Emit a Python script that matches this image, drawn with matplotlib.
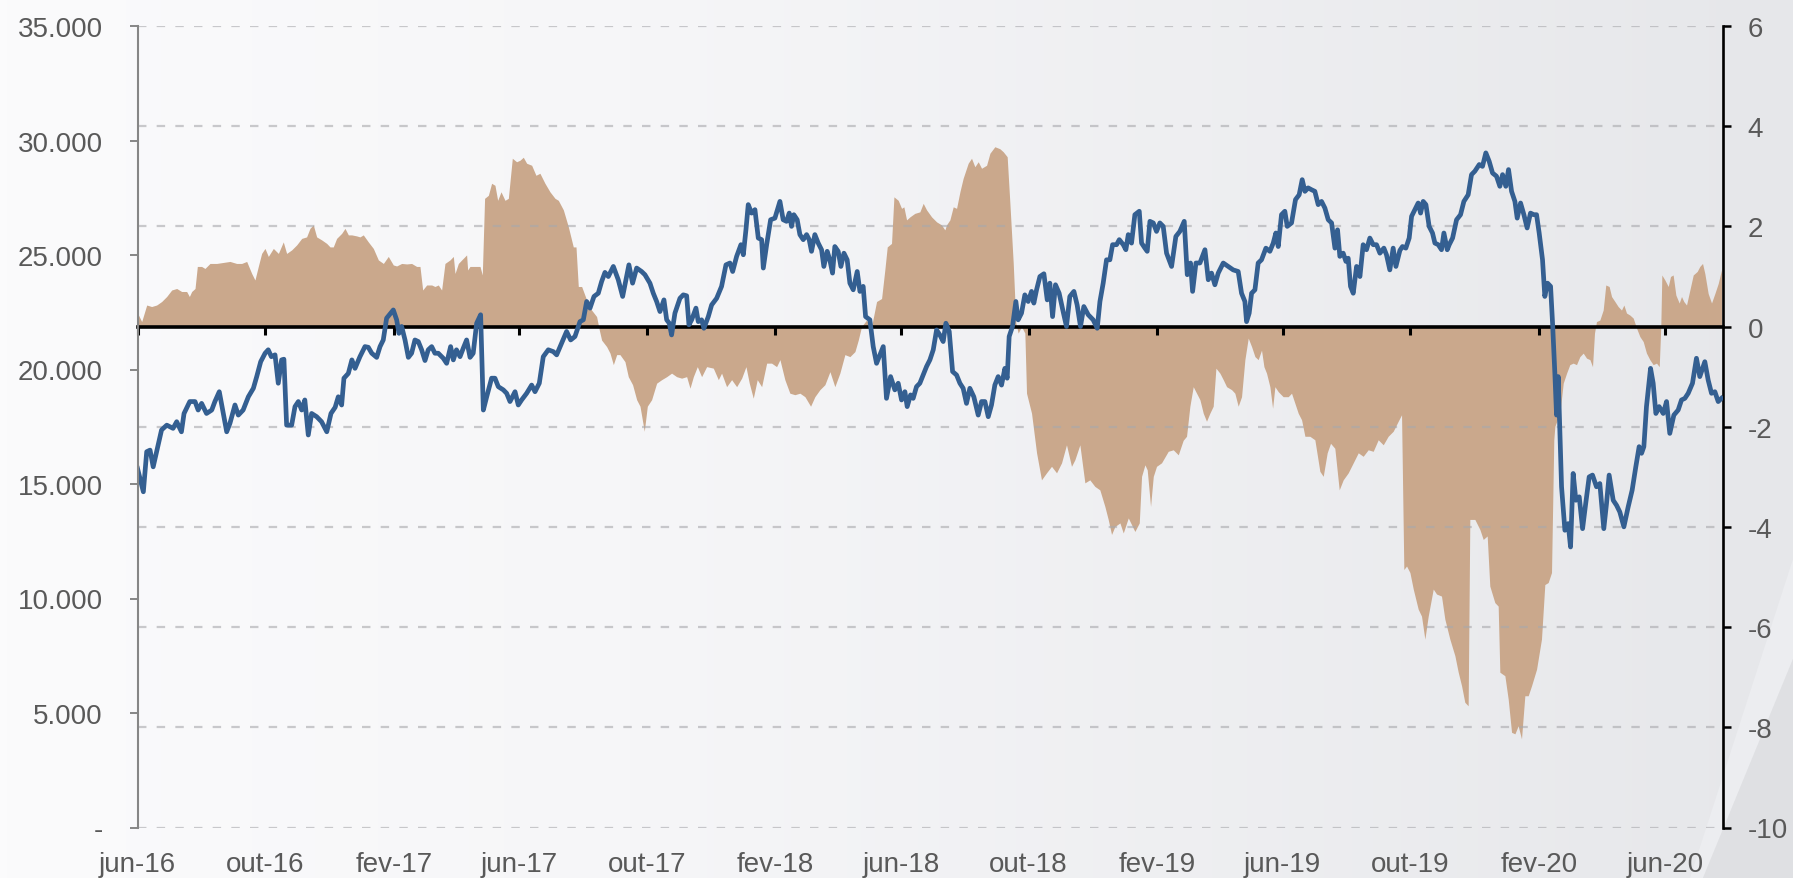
import numpy as np
import pandas as pd
import matplotlib
matplotlib.use("Agg")
from matplotlib import pyplot as plt
from matplotlib import dates as mdates
from matplotlib.ticker import FuncFormatter, MultipleLocator
from matplotlib.colors import LinearSegmentedColormap
from matplotlib.patches import Polygon

plt.rcParams['font.family'] = ['Liberation Sans', 'DejaVu Sans']
plt.rcParams['axes.unicode_minus'] = False

START = pd.Timestamp("2016-06-01")
END_DAY = 1515.6

# Blue line (left axis): (days since START, value)
line_points = [
    (0, 15680), (5.6, 14660), (8.8, 16410), (12, 16480), (15, 15750), (18.3, 16410), (23, 17360), (28, 17570),
    (34, 17430), (37.5, 17720), (42, 17280), (44.5, 18080), (50, 18600), (55, 18600), (58, 18230), (61.3, 18520),
    (66, 18080), (71, 18230), (74, 18600), (78.2, 19030), (82, 18080), (85.3, 17280), (88.4, 17650), (93.2, 18450),
    (96.4, 18010), (101, 18230), (106, 18810), (110.8, 19180), (114, 19690), (117.8, 20340), (122, 20710), (125, 20860),
    (128, 20560), (131.5, 20640), (134.6, 19400), (137.8, 20420), (140, 20450), (142.6, 17570), (147.4, 17570),
    (150.6, 18380), (153.8, 18600), (157, 18230), (160, 18670), (163.3, 17140), (166.5, 18080), (171.3, 17940),
    (176, 17720), (181, 17280), (185, 18080), (189, 18350), (192, 18810), (195.2, 18450), (197.4, 19620),
    (201.6, 19830), (205, 20420), (208, 20050), (212.7, 20560), (217.5, 21000), (220.7, 20970), (224, 20710),
    (228.7, 20530), (231.9, 21000), (235, 21290), (238.2, 22240), (244.6, 22600), (247.8, 22170), (250, 21580),
    (252.6, 21880), (255.8, 21290), (259, 20530), (262.1, 20710), (265.3, 21290), (268.5, 21220), (271.7, 20860),
    (274.9, 20390), (278, 20860), (281.3, 21000), (284.4, 20710), (287.6, 20710), (292.4, 20490), (295.6, 20270),
    (299.4, 21000), (302, 20420), (305, 20860), (308.4, 20560), (311.5, 20930), (314.7, 21290), (318, 20530),
    (321, 20710), (324.3, 22020), (328.1, 22390), (330.7, 18230), (333.9, 18810), (338.6, 19620), (341.8, 19620),
    (345, 19250), (349.8, 19110), (353, 18960), (356.2, 18600), (361, 19030), (364.1, 18450), (367.3, 18670),
    (372.1, 18960), (376.9, 19320), (380.1, 19030), (384.2, 19400), (388, 20560), (392.8, 20860), (397.6, 20780),
    (400.8, 20640), (405.6, 21150), (410.3, 21660), (414.2, 21290), (418.3, 21440), (423.1, 22090), (426.3, 22170),
    (429.5, 22970), (432.7, 22680), (436.5, 23190), (440.6, 23330), (443.8, 23840), (447, 24240), (450.2, 24060),
    (455, 24500), (459.7, 23920), (463.9, 23190), (467.7, 24060), (469.9, 24570), (473.4, 23770), (477.3, 24430),
    (482, 24280), (485.2, 24140), (490, 23770), (493.2, 23330), (496.4, 22970), (499.6, 22530), (503.4, 23040),
    (506, 22170), (508.5, 22020), (510.7, 21510), (513.9, 22460), (518.7, 23110), (521.9, 23260), (525.1, 23220),
    (527.3, 21950), (529.9, 22170), (534, 22680), (536.2, 22090), (539.4, 22170), (541.6, 21800), (545.8, 22310),
    (549, 22820), (553.8, 23110), (558.5, 23630), (562.7, 24570), (566.5, 24650), (569.1, 24280), (572.9, 24940),
    (577, 25450), (579.3, 25010), (581.8, 26100), (584, 27200), (587.2, 26830), (590.4, 26980), (593.6, 25740),
    (596.8, 25670), (598.4, 24430), (601.6, 25450), (605.4, 26540), (609.5, 26610), (614.3, 27340), (617.4, 26540),
    (620.6, 26470), (623.2, 26830), (625.4, 26250), (627.6, 26760), (630.8, 26540), (633.4, 25890), (636.6, 25670),
    (639.8, 25890), (642.3, 25670), (644.5, 25160), (647.7, 25890), (650.9, 25520), (654.1, 25230), (656.3, 24500),
    (659.5, 25160), (662, 24790), (664.6, 24210), (666.8, 25370), (670, 25160), (672.6, 24500), (675.5, 25080),
    (678.6, 24790), (681.2, 23770), (684.4, 23480), (688.2, 24280), (690.8, 23410), (693.9, 23630), (696.2, 22310),
    (700.3, 22170), (703.5, 21000), (706.7, 20270), (709.9, 20640), (713.1, 21000), (716.2, 18740), (720.1, 19690),
    (724.2, 19110), (727.4, 19400), (730.6, 18670), (733.8, 19030), (736, 18380), (739.2, 18890), (741.7, 18740),
    (744.9, 19250), (748.1, 19400), (751.3, 19760), (754.5, 20130), (757.7, 20420), (760.9, 20860), (764.1, 21730),
    (767.2, 21510), (770.4, 21220), (773, 22020), (776.2, 21660), (779.4, 19910), (783.2, 19760), (786.4, 19400),
    (789.5, 19180), (792.7, 18520), (795.9, 19180), (799.7, 18810), (803.9, 18010), (807.1, 18600), (810.3, 18600),
    (813.5, 17940), (816.6, 18450), (819.8, 19320), (823, 19690), (826.2, 19320), (829.4, 20050), (831.6, 19620),
    (833.5, 21440), (836.7, 21880), (839.9, 22970), (842.1, 22170), (845.3, 22460), (848.5, 23260), (851.7, 22970),
    (854.9, 23410), (857.1, 22900), (859.7, 23480), (862.9, 24060), (866.7, 24180), (869.9, 23040), (872.4, 23770),
    (875, 22310), (877.8, 23700), (881.3, 23330), (885.1, 22530), (888.3, 21880), (891.5, 23190), (895.4, 23410),
    (898.5, 22820), (901.7, 21880), (904.9, 22750), (909.1, 22390), (913.8, 22170), (917.7, 21800), (920.3, 22970),
    (923.4, 23770), (926.6, 24790), (929.8, 24790), (932.4, 25450), (936.2, 25450), (938.8, 25670), (942.6, 25450),
    (945.1, 25230), (947.4, 25890), (950.5, 25520), (953.7, 26760), (957.9, 26910), (960.1, 25520), (963.3, 25300),
    (965.5, 25160), (968.1, 26470), (971.3, 26400), (974.4, 26030), (977.6, 26400), (980.8, 26250), (984, 25080),
    (988.8, 24500), (992.9, 25810), (996.7, 26030), (1000.9, 26470), (1003.8, 24140), (1006.9, 24650),
    (1008.9, 23410), (1012.1, 24650), (1015.9, 24650), (1020.7, 25230), (1023.9, 23920), (1027, 24210),
    (1030.2, 23700), (1033.4, 24210), (1038.2, 24650), (1043, 24500), (1047.7, 24350), (1052.5, 24280),
    (1055.7, 23330), (1058.9, 22970), (1060.5, 22090), (1063, 22460), (1065.3, 23330), (1068.5, 23480),
    (1071.6, 24650), (1074.8, 24790), (1079, 25300), (1082.8, 25160), (1086, 25520), (1088.5, 25960),
    (1090.8, 25370), (1093.9, 26760), (1097.1, 26910), (1099.4, 26250), (1103.5, 26400), (1107.3, 27420),
    (1110.8, 27630), (1113.7, 28290), (1116.3, 27780), (1119.4, 27930), (1122.6, 27850), (1125.8, 27780),
    (1129, 27200), (1132.2, 27340), (1135.4, 27050), (1138.6, 26540), (1141.8, 26400), (1145, 25300),
    (1147.5, 26100), (1149.7, 24940), (1152.9, 25080), (1155.5, 24720), (1157.7, 24860), (1159.9, 23630),
    (1162.5, 23330), (1165.7, 24500), (1168.9, 24060), (1172, 25450), (1175.2, 25230), (1178.4, 25740),
    (1181.6, 25450), (1184.8, 25450), (1188, 25080), (1191.8, 25300), (1194.3, 25010), (1197.5, 24350),
    (1200.7, 25300), (1203.3, 24500), (1207.1, 25200), (1209.6, 25370), (1212.8, 25300), (1216, 25740),
    (1218.3, 26690), (1221.4, 26980), (1224.6, 27270), (1226.9, 26830), (1229.4, 27340), (1232, 27200),
    (1235.1, 26250), (1238.3, 25960), (1240.6, 25520), (1243.8, 25450), (1246.9, 25230), (1249.2, 25960),
    (1252.4, 25230), (1254.3, 25450), (1257.5, 25740), (1261.3, 26540), (1265.1, 26760), (1268.3, 27340),
    (1272.4, 27630), (1275.6, 28510), (1278.8, 28660), (1283, 28950), (1286.1, 28870), (1289.3, 29460),
    (1292.5, 29090), (1295.7, 28580), (1299.5, 28440), (1302.7, 28000), (1305.3, 28510), (1308.4, 28000),
    (1311, 28730), (1313.9, 27780), (1317.1, 27340), (1319.3, 26610), (1322.5, 27270), (1325.7, 26760),
    (1328.8, 26180), (1332, 26830), (1335.2, 26760), (1337.8, 26760), (1340.3, 25960), (1343.5, 24790),
    (1345.7, 23190), (1348.3, 23770), (1351.2, 23630), (1353.1, 22020), (1355.3, 19830), (1356.9, 18010),
    (1358.5, 19690), (1360.1, 17360), (1361.7, 14880), (1364.9, 12980), (1368, 13270), (1370.3, 12250),
    (1372.8, 15460), (1375.4, 14290), (1378.6, 14440), (1381.8, 13050), (1385, 14220), (1388.1, 15310),
    (1391.3, 15390), (1395.1, 14880), (1398.3, 15020), (1402.1, 13050), (1404.7, 14150), (1407.2, 15390),
    (1411.1, 14290), (1414.3, 14070), (1417.4, 13780), (1421.3, 13130), (1425.4, 14000), (1429.2, 14730),
    (1432.7, 15750), (1435.9, 16630), (1438.2, 16340), (1440.4, 16630), (1442.9, 18380), (1446.8, 20050),
    (1449.3, 19400), (1451.9, 18080), (1455, 18380), (1458.9, 18080), (1462.1, 18600), (1465.2, 17210),
    (1469.1, 18010), (1473.2, 18230), (1476.4, 18670), (1479.6, 18740), (1482.8, 18960), (1486.9, 19400),
    (1490.7, 20490), (1493.9, 19690), (1498.7, 20340), (1501.9, 19540), (1505.1, 18960), (1508.3, 19030),
    (1511.5, 18600), (1514.6, 18740),
]

# Brown area (right axis): (days since START, value)
area_points = [
    (0, 0.27), (4, 0.10), (8.8, 0.43), (13.5, 0.40), (18.3, 0.43), (23.1, 0.50), (27.9, 0.60), (32.7, 0.73),
    (37.5, 0.76), (42.2, 0.70), (47, 0.70), (49.6, 0.60), (51.8, 0.70), (55, 0.76), (57.2, 1.20), (61.3, 1.20),
    (64.5, 1.16), (69.3, 1.26), (75.7, 1.26), (82.1, 1.28), (88.4, 1.30), (94.8, 1.26), (99.6, 1.26), (104.4, 1.30),
    (109.2, 1.06), (112.3, 0.93), (115.5, 1.20), (118.7, 1.46), (121.9, 1.56), (125.1, 1.40), (129.9, 1.56),
    (134.7, 1.46), (139.4, 1.69), (142.6, 1.46), (147.4, 1.53), (152.2, 1.63), (157, 1.76), (161.7, 1.79),
    (164.9, 1.96), (168.1, 2.03), (171.3, 1.79), (176.1, 1.73), (180.9, 1.66), (184.1, 1.59), (187.2, 1.59),
    (190.4, 1.76), (195.2, 1.86), (198.4, 1.96), (201.6, 1.83), (204.8, 1.83), (209.5, 1.81), (212.7, 1.79),
    (215.9, 1.83), (220.7, 1.69), (225.5, 1.56), (230.3, 1.33), (235.1, 1.26), (239.8, 1.40), (244.6, 1.23),
    (247.8, 1.21), (252.6, 1.26), (257.4, 1.25), (262.1, 1.26), (266.9, 1.20), (270.1, 1.20), (272.7, 0.73),
    (276.5, 0.83), (281.3, 0.83), (284.4, 0.80), (287.6, 0.83), (290.8, 0.73), (294, 1.26), (298.8, 1.33),
    (302, 1.40), (303.6, 1.06), (306.8, 1.26), (310, 1.33), (314.7, 1.43), (315.7, 1.13), (317.9, 1.20),
    (322.7, 1.20), (327.5, 1.20), (329.7, 1.03), (331.9, 2.56), (335.5, 2.62), (338.6, 2.86), (341.8, 2.82),
    (344.4, 2.52), (347.6, 2.69), (351.4, 2.52), (354.6, 2.56), (358.4, 3.36), (362.5, 3.29), (365.7, 3.32),
    (368.9, 3.38), (372.1, 3.26), (376.9, 3.22), (381, 3.02), (384.8, 3.06), (389.6, 2.86), (394.4, 2.69),
    (399.2, 2.56), (402.4, 2.52), (407.2, 2.33), (412, 1.99), (416.7, 1.59), (419.3, 1.59), (421.5, 0.80),
    (424.7, 0.80), (429.5, 0.53), (434.2, 0.33), (439, 0.20), (441.6, -0.07), (443.8, -0.27), (448.6, -0.40),
    (451.8, -0.53), (455, -0.76), (458.2, -0.56), (461.3, -0.56), (466.1, -0.70), (469.3, -1.00), (473.4, -1.16),
    (477.3, -1.46), (480.5, -1.59), (484.6, -2.09), (487.5, -1.59), (491.6, -1.46), (496.4, -1.13), (501.2, -1.06),
    (506, -1.00), (510.7, -0.93), (515.5, -1.00), (520.3, -1.03), (525.1, -1.00), (528.3, -1.23), (531.5, -1.00),
    (535.3, -0.80), (539.4, -1.00), (544.2, -0.80), (550.6, -0.83), (555.4, -1.06), (558.5, -0.93), (563.3, -1.20),
    (568.1, -1.06), (572.9, -1.20), (577.7, -1.03), (581.8, -0.80), (585, -1.13), (588.8, -1.43), (592.6, -1.06),
    (596.8, -1.20), (601.6, -0.73), (606.3, -0.73), (611.1, -0.80), (614.3, -0.66), (619, -1.06), (623.8, -1.33),
    (628.6, -1.36), (633.4, -1.33), (638.2, -1.40), (643.6, -1.59), (647.7, -1.40), (652.5, -1.26), (657.3, -1.16),
    (662.1, -0.90), (666.8, -1.20), (671.6, -0.93), (676.4, -0.56), (681.2, -0.60), (686, -0.50), (689.2, -0.27),
    (692.3, 0.00), (697.1, 0.13), (701.9, 0.00), (706.7, 0.50), (711.5, 0.56), (714.6, 1.13), (716.9, 1.59),
    (721, 1.66), (723.3, 2.59), (727.4, 2.52), (730.6, 2.36), (732.8, 2.39), (735.4, 2.13), (738.6, 2.19),
    (743.3, 2.26), (748.1, 2.29), (751.3, 2.46), (754.5, 2.33), (759.3, 2.19), (764.1, 2.09), (768.8, 2.03),
    (772, 1.93), (773.6, 2.03), (776.8, 2.13), (780, 2.39), (783.2, 2.36), (786.4, 2.69), (789.5, 2.96),
    (794.3, 3.26), (797.5, 3.36), (800.7, 3.19), (803.9, 3.29), (807.1, 3.16), (811.9, 3.22), (815.1, 3.46),
    (819.8, 3.59), (824.6, 3.55), (827.8, 3.49), (831.6, 3.39), (834.2, 2.46), (837.4, 1.26), (839.9, 0.07),
    (842.1, -0.13), (845.3, 0.00), (848.5, -0.13), (850.1, -1.33), (854.9, -1.73), (859.7, -2.52), (864.4, -3.06),
    (869.2, -2.92), (874, -2.79), (878.8, -2.92), (883.6, -2.72), (888.3, -2.36), (893.1, -2.79), (896.3, -2.66),
    (901.1, -2.36), (905.9, -3.12), (910.6, -3.06), (915.4, -3.19), (920.2, -3.26), (925, -3.59), (928.2, -3.85),
    (931.4, -4.15), (934.6, -3.99), (939.4, -3.92), (942.6, -4.12), (947.4, -3.82), (953.7, -4.09), (957.9, -3.92),
    (960.1, -2.99), (963.3, -2.76), (965.5, -2.86), (968.7, -3.59), (971.3, -2.99), (974.4, -2.79), (979.2, -2.72),
    (985.6, -2.49), (990.4, -2.46), (995.2, -2.56), (999.9, -2.27), (1003.1, -2.19), (1006.3, -1.59),
    (1009.5, -1.20), (1012.7, -1.33), (1015.9, -1.46), (1019.1, -1.73), (1022.2, -1.89), (1025.4, -1.73),
    (1028.6, -1.59), (1031.2, -0.83), (1035, -0.93), (1038.2, -1.06), (1041.4, -1.20), (1046.2, -1.26),
    (1049.3, -1.33), (1052.5, -1.59), (1055.7, -1.40), (1058.9, -0.66), (1062.1, -0.23), (1065.3, -0.40),
    (1068.5, -0.60), (1071.6, -0.66), (1074.8, -0.47), (1077.1, -0.80), (1079.6, -0.93), (1082.8, -1.20),
    (1085.4, -1.63), (1087.6, -1.20), (1090.8, -1.30), (1095.5, -1.40), (1100.3, -1.40), (1103.5, -1.33),
    (1106.7, -1.53), (1109.9, -1.73), (1113.1, -1.86), (1116.3, -2.19), (1121, -2.19), (1125.8, -2.26),
    (1130.6, -2.89), (1133.8, -2.99), (1137.6, -2.52), (1140.8, -2.33), (1144.9, -2.43), (1149.1, -3.26),
    (1152.9, -3.06), (1157.7, -2.92), (1162.5, -2.72), (1167.3, -2.52), (1172, -2.59), (1176.8, -2.46),
    (1181.6, -2.49), (1186.4, -2.26), (1191.2, -2.36), (1195.9, -2.19), (1200.7, -2.09), (1205.5, -1.89),
    (1208.7, -1.76), (1210.9, -4.85), (1213.5, -4.78), (1216.7, -4.91), (1219.9, -5.24), (1224.6, -5.64),
    (1227.8, -5.78), (1231, -6.24), (1234.2, -5.78), (1239, -5.24), (1242.2, -5.34), (1246.9, -5.38),
    (1250.1, -5.84), (1254.9, -6.24), (1259.7, -6.57), (1262.9, -6.90), (1266.1, -7.17), (1269.2, -7.50),
    (1272.4, -7.57), (1274, -3.85), (1278.8, -3.85), (1283.6, -4.05), (1286.8, -4.25), (1290.6, -4.18),
    (1293.1, -5.18), (1297.9, -5.51), (1301.1, -5.58), (1302.7, -6.90), (1307.5, -6.97), (1310.7, -7.44),
    (1313.9, -8.10), (1317.1, -8.13), (1320.2, -7.97), (1323.4, -8.23), (1326.6, -7.37), (1329.8, -7.37),
    (1333, -7.17), (1337.8, -6.84), (1342.5, -6.24), (1345.7, -5.15), (1348.9, -5.11), (1352.1, -4.91),
    (1354.3, -2.26), (1355.3, -1.99), (1360.1, -1.73), (1363.3, -1.13), (1366.5, -0.93), (1369.6, -0.76),
    (1372.8, -0.73), (1376, -0.76), (1379.2, -0.60), (1382.4, -0.53), (1385.6, -0.63), (1388.8, -0.66),
    (1391.3, -0.80), (1393.2, -0.13), (1395.1, 0.10), (1398.3, 0.13), (1401.5, 0.33), (1404, 0.83),
    (1407.2, 0.80), (1409.5, 0.60), (1412.7, 0.50), (1415.8, 0.40), (1419, 0.33), (1421.3, 0.43), (1423.8, 0.27),
    (1427, 0.23), (1430.2, 0.17), (1433.4, -0.03), (1436.6, -0.20), (1439.8, -0.30), (1442.9, -0.53),
    (1446.1, -0.66), (1449.3, -0.76), (1452.5, -0.73), (1455.1, -0.80), (1456.6, 0.00), (1457.6, 1.03),
    (1460.5, 0.93), (1463.7, 0.80), (1465.9, 1.00), (1468.4, 1.03), (1471, 0.63), (1474.2, 0.47), (1476.4, 0.60),
    (1478.6, 0.50), (1481.2, 0.43), (1484.4, 0.73), (1487.6, 1.03), (1491.4, 1.10), (1493.9, 1.20),
    (1496.5, 1.26), (1498.7, 1.06), (1501.9, 0.66), (1505.1, 0.47), (1508.3, 0.66), (1511.5, 0.86),
    (1514.6, 1.13),
]

left_ticks = [0, 5000, 10000, 15000, 20000, 25000, 30000, 35000]
pt_months = ["jan", "fev", "mar", "abr", "mai", "jun", "jul", "ago", "set", "out", "nov", "dez"]

BLUE = "#345f91"
TAN = "#caa88c"
LABEL = "#595959"

W, H = 1793, 879


def to_dates(days):
    return START + pd.to_timedelta(np.array(days, dtype=float), unit="D")


def thousands(v, _):
    if v == 0:
        return "-"
    return f"{int(v):,}".replace(",", ".")


def month_label(x, _):
    d = mdates.num2date(x)
    return f"{pt_months[d.month - 1]}-{d.year % 100:02d}"


fig = plt.figure(figsize=(W / 100, H / 100), dpi=100)

# Background: soft horizontal gradient plus the grey wedge in the corner
bg = fig.add_axes([0, 0, 1, 1], zorder=-10)
cmap = LinearSegmentedColormap.from_list(
    "bg", [(0, "#fbfbfc"), (0.35, "#f6f6f8"), (1, "#e6e7ea")])
bg.imshow(np.linspace(0, 1, 256).reshape(1, -1), aspect="auto", cmap=cmap,
          extent=[0, 1, 0, 1])
bg.set_xlim(0, 1)
bg.set_ylim(0, 1)
bg.axis("off")
bg.add_patch(Polygon([(1690 / W, 0), (1, 1 - 560 / H), (1, 1 - 660 / H), (1703 / W, 0)],
                     closed=True, facecolor="#ecedf0", edgecolor="none"))
bg.add_patch(Polygon([(1703 / W, 0), (1, 1 - 660 / H), (1, 0)],
                     closed=True, facecolor="#dfe0e3", edgecolor="none"))

rect = [137.5 / W, 1 - 828.5 / H, (1722.5 - 137.5) / W, (828.5 - 27) / H]

# Right axis carries the area, the dashed grid and the zero line
ax_r = fig.add_axes(rect)
ax_r.patch.set_alpha(0)
area_day, area_value = zip(*area_points)
ax_r.fill_between(to_dates(area_day), 0, area_value, color=TAN, lw=0)
ax_r.set_ylim(-10, 6)
ax_r.yaxis.set_major_locator(MultipleLocator(2))
ax_r.set_axisbelow(False)
ax_r.yaxis.grid(True, color="#a8a8ac", alpha=0.6, lw=1.6, linestyle=(0, (3.8, 4.6)))
for side in ["top", "left"]:
    ax_r.spines[side].set_visible(False)
ax_r.spines["right"].set_color("black")
ax_r.spines["right"].set_linewidth(1.9)
ax_r.spines["bottom"].set_position(("data", 0))
ax_r.spines["bottom"].set_color("black")
ax_r.spines["bottom"].set_linewidth(2.6)
ax_r.spines["bottom"].set_zorder(3)
ax_r.tick_params(axis="x", direction="out", length=6, width=2.2, color="black",
                 labelbottom=False)

ax_r.set_xlim(START, START + pd.Timedelta(days=END_DAY))
ax_r.xaxis.set_major_locator(mdates.MonthLocator(bymonth=[2, 6, 10], bymonthday=1))
ax_r.xaxis.set_major_formatter(FuncFormatter(month_label))

# Left axis carries the blue line, drawn on top of everything else
ax_l = ax_r.twinx()
line_day, line_value = zip(*line_points)
ax_l.plot(to_dates(line_day), line_value, color=BLUE, lw=3.4, solid_joinstyle="round")
ax_l.set_ylim(0, 35000)
ax_l.set_yticks(left_ticks)
ax_l.yaxis.set_major_formatter(FuncFormatter(thousands))
for side in ["top", "right", "bottom"]:
    ax_l.spines[side].set_visible(False)
ax_l.spines["left"].set_color("#868686")
ax_l.spines["left"].set_linewidth(1.5)

# twinx moves the host ticks to the left, so swap sides after creating it
ax_r.yaxis.tick_right()
ax_r.tick_params(axis="y", direction="out", length=6, width=1.8, color="black",
                 labelsize=20, labelcolor=LABEL, pad=12)
ax_l.yaxis.tick_left()
ax_l.tick_params(axis="y", direction="out", length=6, width=1.4, color="#868686",
                 labelsize=20, labelcolor=LABEL, pad=19)

# month labels sit at the bottom of the plot, not on the zero line
ax_l.xaxis.set_visible(True)
ax_l.tick_params(axis="x", length=0, pad=17, labelsize=20, labelcolor=LABEL,
                 labelbottom=True)

fig.savefig("out.png", dpi=100)
